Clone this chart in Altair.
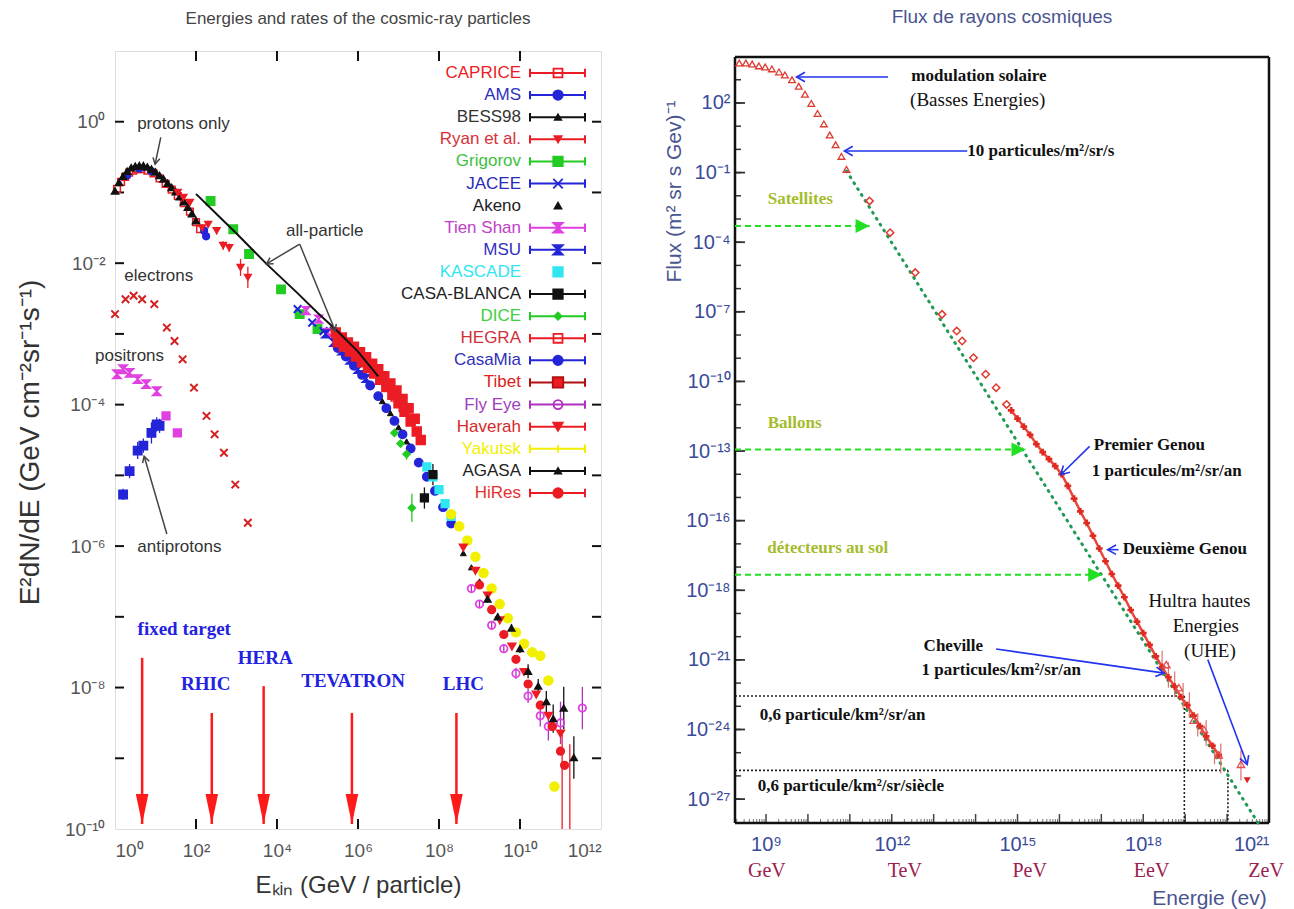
import math
import altair as alt
import pandas as pd

# ================================================================
# LEFT PANEL  x = log10(E_kin / GeV),  y = log10(E^2 dN/dE)
# ================================================================
bess_x = [0.0, 0.1, 0.2, 0.3, 0.4, 0.5, 0.6, 0.7, 0.8, 0.9, 1.0, 1.1, 1.2, 1.3, 1.4, 1.5, 1.6, 1.7, 1.8, 1.9, 2.0]
bess_y = [-0.98, -0.86, -0.77, -0.70, -0.65, -0.63, -0.62, -0.62, -0.64, -0.67, -0.71, -0.76, -0.81, -0.87, -0.93, -0.99, -1.06, -1.13, -1.21, -1.30, -1.40]
caprice_x = [0.05, 0.15, 0.25, 0.35, 0.45, 0.55, 0.65, 0.8, 0.95, 1.1, 1.25, 1.4, 1.55, 1.7, 1.85, 2.0, 2.1]
caprice_y = [-0.95, -0.85, -0.78, -0.72, -0.69, -0.67, -0.67, -0.69, -0.73, -0.80, -0.88, -0.96, -1.05, -1.15, -1.27, -1.42, -1.52]
ams_x = [0.3, 0.6, 0.9, 2.2, 2.25]
ams_y = [-0.76, -0.66, -0.70, -1.54, -1.62]
ryan_x = [1.55, 1.69, 1.85, 2.15, 2.3, 2.51, 2.67, 2.82, 3.1, 3.28]
ryan_y = [-1.0, -1.07, -1.14, -1.5, -1.45, -1.54, -1.75, -1.78, -2.06, -2.2]
ryan_err = [0.03, 0.03, 0.04, 0.05, 0.05, 0.05, 0.06, 0.06, 0.12, 0.15]
grig_x = [2.36, 2.92, 3.31, 4.1, 4.56, 5.0]
grig_y = [-1.12, -1.52, -1.87, -2.37, -2.72, -2.93]
jacee_x = [4.51, 4.87, 5.15, 5.59]
jacee_y = [-2.65, -2.84, -2.96, -3.1]
tien_x = [4.72, 5.03, 5.25]
tien_y = [-2.67, -2.79, -2.98]
msu_x = [5.2, 5.4, 5.6, 5.8, 6.0, 6.2]
msu_y = [-3.0, -3.12, -3.24, -3.37, -3.5, -3.63]
casamia_x = [5.5, 5.7, 5.9, 6.1, 6.3, 6.5, 6.7, 6.9, 7.1, 7.3, 7.5, 7.7, 7.9, 8.1, 8.3]
casamia_y = [-3.2, -3.32, -3.45, -3.58, -3.73, -3.88, -4.05, -4.23, -4.42, -4.62, -4.82, -5.02, -5.22, -5.45, -5.68]
akeno_x = [6.6, 6.8, 7.0, 7.2, 8.6, 8.8, 9.0]
akeno_y = [-3.95, -4.12, -4.32, -4.52, -6.1, -6.3, -6.5]
tibet_x = [5.45, 5.5, 5.6, 5.65, 5.75, 5.8, 5.9, 5.95, 6.05, 6.1, 6.2, 6.25, 6.35, 6.4, 6.5, 6.55, 6.65, 6.7, 6.8, 6.85, 6.95, 7.0, 7.1, 7.15, 7.25, 7.3, 7.4, 7.45, 7.55]
tibet_y = [-2.98, -3.12, -3.05, -3.18, -3.12, -3.25, -3.18, -3.32, -3.26, -3.4, -3.33, -3.48, -3.42, -3.56, -3.5, -3.65, -3.6, -3.75, -3.7, -3.86, -3.8, -3.98, -3.92, -4.1, -4.05, -4.24, -4.2, -4.38, -4.5]
dice_x = [6.9, 7.05, 7.2, 7.33]
dice_y = [-4.4, -4.55, -4.7, -5.46]
dice_err = [0.05, 0.05, 0.08, 0.2]
hegra_x = [6.9, 7.1]
hegra_y = [-3.9, -4.05]
casab_x = [7.64, 7.85]
casab_y = [-5.32, -4.99]
casab_err = [0.15, 0.15]
kascade_x = [7.7, 7.85, 8.0, 8.15, 8.3]
kascade_y = [-4.88, -5.02, -5.2, -5.4, -5.58]
yakutsk_x = [8.3, 8.5, 8.7, 8.9, 9.1, 9.3, 9.5, 9.7, 9.9, 10.1, 10.3, 10.5, 10.7, 10.85]
yakutsk_y = [-5.55, -5.72, -5.92, -6.15, -6.38, -6.6, -6.82, -7.02, -7.22, -7.38, -7.5, -7.55, -7.9, -9.4]
flyeye_x = [8.8, 9.0, 9.3, 9.6, 9.9, 10.2, 10.5, 10.7, 11.0, 11.54]
flyeye_y = [-6.6, -6.82, -7.12, -7.45, -7.8, -8.12, -8.4, -8.55, -8.5, -8.29]
flyeye_err = [0.05, 0.05, 0.05, 0.06, 0.08, 0.1, 0.15, 0.2, 0.3, 0.3]
haverah_x = [8.6, 8.9, 9.2, 9.5, 9.8, 10.1, 10.4, 10.7, 11.0]
haverah_y = [-6.02, -6.35, -6.7, -7.05, -7.42, -7.78, -8.1, -8.4, -8.65]
agasa_x = [9.2, 9.45, 9.79, 10.0, 10.2, 10.45, 10.65, 10.82, 11.08, 11.33]
agasa_y = [-6.75, -7.0, -7.16, -7.45, -7.77, -7.98, -8.2, -8.44, -8.29, -8.99]
agasa_err = [0.05, 0.05, 0.06, 0.06, 0.1, 0.1, 0.15, 0.2, 0.3, 0.3]
hires_x = [9.0, 9.3, 9.6, 9.9, 10.2, 10.5, 10.8, 11.0, 11.1]
hires_y = [-6.55, -6.9, -7.25, -7.6, -7.95, -8.25, -8.55, -8.9, -9.1]
bigerr_x = [11.04, 11.23]
bigerr_lo = [-10.0, -10.0]
bigerr_hi = [-8.6, -8.8]
electron_x = [0.0, 0.26, 0.46, 0.67, 0.97, 1.28, 1.47, 1.67, 1.95, 2.26, 2.46, 2.69, 2.97, 3.28]
electron_y = [-2.72, -2.51, -2.46, -2.51, -2.58, -2.91, -3.1, -3.36, -3.76, -4.16, -4.42, -4.68, -5.13, -5.67]
positron_x = [0.05, 0.2, 0.36, 0.56, 0.77, 1.03]
positron_y = [-3.57, -3.5, -3.55, -3.64, -3.71, -3.81]
positron_sq_x = [1.26, 1.54]
positron_sq_y = [-4.16, -4.4]
antip_x = [0.2, 0.36, 0.56, 0.7, 0.9, 1.03, 1.1]
antip_y = [-5.27, -4.94, -4.65, -4.58, -4.4, -4.28, -4.3]
antip_err = [0.08, 0.1, 0.12, 0.1, 0.15, 0.1, 0.1]
allpart_x = [2.0, 2.5, 3.0, 3.74, 4.5, 5.0, 5.49, 6.0, 6.5]
allpart_y = [-1.02, -1.3, -1.58, -2.01, -2.42, -2.7, -2.96, -3.25, -3.6]

note_text = ["protons only", "all-particle", "electrons", "positrons", "antiprotons"]
note_x = [1.69, 5.18, 1.08, 0.36, 1.59]
note_y = [-0.03, -1.54, -2.18, -3.31, -6.01]
pointer_x0 = [1.13, 4.56, 4.56, 1.28]
pointer_y0 = [-0.22, -1.73, -1.73, -5.83]
pointer_x1 = [0.99, 3.74, 5.44, 0.72]
pointer_y1 = [-0.6, -2.01, -2.96, -4.73]

collider_text = ["fixed target", "RHIC", "HERA", "TEVATRON", "LHC"]
collider_text_x = [1.71, 2.24, 3.71, 5.88, 8.6]
collider_text_y = [-7.17, -7.95, -7.58, -7.91, -7.95]
collider_arrow_x = [0.67, 2.39, 3.67, 5.85, 8.43]
collider_arrow_top = [-7.58, -8.36, -7.98, -8.36, -8.36]
collider_arrow_tip = [-9.93, -9.93, -9.93, -9.93, -9.93]

legend_names = ["CAPRICE", "AMS", "BESS98", "Ryan et al.", "Grigorov", "JACEE", "Akeno", "Tien Shan",
                "MSU", "KASCADE", "CASA-BLANCA", "DICE", "HEGRA", "CasaMia", "Tibet", "Fly Eye",
                "Haverah", "Yakutsk", "AGASA", "HiRes"]

# ================================================================
# RIGHT PANEL  x = log10(E / eV),  y = log10(flux)
# ================================================================
r_tri_x = [8.36, 8.52, 8.67, 8.83, 8.98, 9.14, 9.31, 9.45, 9.62, 9.78, 9.93, 10.08, 10.23, 10.38, 10.52, 10.66, 10.8, 10.92]
r_tri_y = [3.72, 3.72, 3.68, 3.6, 3.55, 3.47, 3.34, 3.21, 3.0, 2.72, 2.38, 1.98, 1.55, 1.1, 0.62, 0.2, -0.3, -0.86]
r_dia_x = [11.47, 11.96, 12.56, 13.20, 13.55, 13.68, 13.95, 14.24, 14.49, 14.74]
r_dia_y = [-2.22, -3.59, -5.31, -7.11, -7.83, -8.26, -8.98, -9.69, -10.27, -10.99]
r_band_x = [14.85, 15.0, 15.15, 15.3, 15.45, 15.6, 15.75, 15.9, 16.05, 16.2, 16.35, 16.5, 16.65, 16.8, 16.95, 17.1, 17.25,
            17.4, 17.55, 17.7, 17.85, 18.0, 18.15, 18.3, 18.45, 18.6, 18.75, 18.9, 19.05, 19.2, 19.35, 19.5, 19.65, 19.8]
r_band_y = [-11.25, -11.6, -11.95, -12.3, -12.7, -13.05, -13.35, -13.65, -14.0, -14.5, -15.05, -15.6, -16.1, -16.65, -17.2, -17.75, -18.3,
            -18.8, -19.3, -19.85, -20.35, -20.85, -21.35, -21.85, -22.3, -22.75, -23.15, -23.6, -23.95, -24.4, -24.85, -25.3, -25.7, -26.1]
r_hi_x = [18.55, 18.85, 19.2, 19.45, 19.8, 20.33]
r_hi_y = [-22.2, -23.2, -24.6, -25.0, -26.1, -26.5]
r_err_x = [18.45, 18.6, 18.75, 18.95, 19.1, 19.3, 19.5, 19.7, 19.85, 20.33]
r_err_lo = [-22.7, -23.2, -23.6, -24.1, -24.5, -25.3, -25.7, -26.5, -26.9, -27.2]
r_err_hi = [-21.6, -22.1, -22.5, -23.0, -23.4, -24.3, -24.6, -25.6, -25.6, -25.9]
r_last_x = [20.48]
r_last_y = [-27.19]
r_fit_x = [10.92, 20.74]
r_fit_y = [-0.93, -29.03]

green_text = ["Satellites", "Ballons", "détecteurs au sol"]
green_text_x = [9.04, 9.04, 9.03]
green_text_y = [-2.15, -11.78, -17.18]
green_arrow_y = [-3.30, -12.93, -18.33]
green_arrow_tip = [11.47, 15.19, 17.02]

dotted_h_y = [-23.56, -26.76]
dotted_h_end = [18.98, 20.02]

bold_left_text = ["10 particules/m²/sr/s", "Premier Genou", "1 particules/m²/sr/an", "Deuxième Genou",
                  "Cheville", "1 particules/km²/sr/an", "0,6 particule/km²/sr/an", "0,6 particule/km²/sr/siècle"]
bold_left_x = [13.8, 16.82, 16.77, 17.51, 12.76, 12.71, 8.85, 8.80]
bold_left_y = [-0.05, -12.75, -13.88, -17.22, -21.42, -22.42, -24.36, -27.45]
center_text = ["modulation solaire", "(Basses Energies)", "Hultra hautes", "Energies", "(UHE)"]
center_x = [14.08, 14.05, 19.34, 19.49, 19.59]
center_y = [3.16, 2.12, -19.48, -20.56, -21.63]

blue_x0 = [11.91, 13.8, 16.72, 17.41, 14.49, 19.54]
blue_y0 = [3.12, -0.07, -12.8, -17.25, -21.53, -21.99]
blue_x1 = [9.73, 10.87, 16.03, 17.15, 18.5, 20.48]
blue_y1 = [3.12, -0.07, -14.02, -17.25, -22.57, -26.51]

unit_text = ["GeV", "TeV", "PeV", "EeV", "ZeV"]
unit_x = [9.02, 12.31, 15.29, 18.2, 20.93]

# ================================================================
SUP = str.maketrans("0123456789-", "⁰¹²³⁴⁵⁶⁷⁸⁹⁻")
SANS = "Liberation Sans, Arial, Helvetica, sans-serif"
SERIF = "Liberation Serif, Times New Roman, serif"


def p10(n):
    return "10" + str(n).translate(SUP)


def label_expr(mapping):
    expr = "''"
    for v, s in mapping.items():
        expr = f"datum.value == {v} ? '{s}' : ({expr})"
    return expr


SQ, CI, TU, TD, DI = "square", "circle", "triangle-up", "triangle-down", "diamond"
XS = "M-1,-1L1,1M-1,1L1,-1"
HG = "M-1,-1L1,-1L-1,1L1,1Z"
VBAR = "M0,-1L0,1"
CHEV = "M-1.6,-0.9L0,0L-1.6,0.9"
TRI_R = "M-2,-1L0,0L-2,1Z"
RED_HEAD = "M-0.42,-2L0.42,-2L0,0Z"

RED, BLUE, GREEN, MAG, CYAN, YEL, BLK, PURP = "#ec1c24", "#2424d8", "#22cc22", "#e040e0", "#30e6f0", "#f2f000", "#111111", "#b030c0"

# ---------------- LEFT CHART ----------------
W1, H1 = 486, 778
xs1 = alt.Scale(domain=[0, 12], nice=False, zero=False)
ys1 = alt.Scale(domain=[-10, 1], nice=False, zero=False)
kx1, ky1 = W1 / 12.0, H1 / 11.0

ax_x1 = alt.Axis(values=list(range(0, 13, 2)), labelExpr=label_expr({v: p10(v) for v in range(0, 13, 2)}),
                 labelFont=SANS, labelFontSize=19, labelColor="#555555", ticks=False, domain=False, grid=False,
                 labelPadding=12, title="Eₖᵢₙ   (GeV / particle)", titleFont=SANS, titleFontSize=24,
                 titleFontWeight="normal", titleColor="#333333", titleX=W1 / 2, titleY=56,
                 titleBaseline="middle", titleAlign="center")
ax_y1 = alt.Axis(values=list(range(-10, 1, 2)), labelExpr=label_expr({v: p10(v) for v in range(-10, 1, 2)}),
                 labelFont=SANS, labelFontSize=19, labelColor="#555555", ticks=False, domain=False, grid=False,
                 labelPadding=10, title="E²dN/dE    (GeV cm⁻²sr⁻¹s⁻¹)", titleFont=SANS, titleFontSize=28,
                 titleFontWeight="normal", titleColor="#333333", titleX=-85, titleY=391, titleAngle=-90,
                 titleAlign="center", titleBaseline="middle")


def X1(f):
    return alt.X(f, type="quantitative", scale=xs1, axis=ax_x1)


def Y1(f):
    return alt.Y(f, type="quantitative", scale=ys1, axis=ax_y1)


tick_y_df = pd.DataFrame({"y": list(range(-9, 1))})
tick_x_df = pd.DataFrame({"x": [2, 4, 6, 8, 10]})
ticks1 = [
    alt.Chart(tick_y_df).mark_rule(color=BLK, strokeWidth=2).encode(x=alt.value(0), x2=alt.value(9), y=Y1("y")),
    alt.Chart(tick_y_df).mark_rule(color=BLK, strokeWidth=2).encode(x=alt.value(W1 - 9), x2=alt.value(W1), y=Y1("y")),
    alt.Chart(tick_x_df).mark_rule(color=BLK, strokeWidth=2).encode(y=alt.value(H1 - 10), y2=alt.value(H1), x=X1("x")),
    alt.Chart(tick_x_df).mark_rule(color=BLK, strokeWidth=2).encode(y=alt.value(0), y2=alt.value(10), x=X1("x")),
]

series_specs = [
    (electron_x, electron_y, XS, "transparent", "#d42020", 55, 2.0),
    (positron_x, positron_y, HG, MAG, MAG, 70, 1.5),
    (positron_sq_x, positron_sq_y, SQ, MAG, MAG, 60, 1.5),
    (antip_x, antip_y, SQ, BLUE, BLUE, 70, 1.5),
    (caprice_x, caprice_y, SQ, "transparent", RED, 45, 1.5),
    (ams_x, ams_y, CI, BLUE, BLUE, 45, 1.5),
    (bess_x, bess_y, TU, BLK, BLK, 50, 1.5),
    (ryan_x, ryan_y, TD, RED, RED, 45, 1.5),
    (grig_x, grig_y, SQ, GREEN, GREEN, 70, 1.5),
    (jacee_x, jacee_y, XS, "transparent", BLUE, 60, 2.0),
    (tien_x, tien_y, HG, MAG, MAG, 60, 1.5),
    (msu_x, msu_y, HG, BLUE, BLUE, 60, 1.5),
    (casamia_x, casamia_y, CI, BLUE, BLUE, 70, 1.5),
    (akeno_x, akeno_y, TU, BLK, BLK, 35, 1.0),
    (dice_x, dice_y, DI, GREEN, GREEN, 50, 1.5),
    (hegra_x, hegra_y, SQ, "transparent", RED, 45, 1.5),
    (tibet_x, tibet_y, SQ, RED, RED, 80, 1.5),
    (kascade_x, kascade_y, SQ, CYAN, CYAN, 60, 1.5),
    (casab_x, casab_y, SQ, BLK, BLK, 60, 1.5),
    (yakutsk_x, yakutsk_y, CI, YEL, YEL, 80, 1.5),
    (flyeye_x, flyeye_y, CI, "transparent", MAG, 55, 1.8),
    (haverah_x, haverah_y, TD, RED, RED, 60, 1.5),
    (hires_x, hires_y, CI, RED, RED, 60, 1.5),
    (agasa_x, agasa_y, TU, BLK, BLK, 45, 1.5),
]
pts_df1 = pd.concat([
    pd.DataFrame({"x": xs, "y": ys, "shape": sh, "fill": fi, "stroke": st, "size": sz, "sw": sw})
    for xs, ys, sh, fi, st, sz, sw in series_specs], ignore_index=True)

err_specs = [(ryan_x, ryan_y, ryan_err, RED), (antip_x, antip_y, antip_err, BLUE), (dice_x, dice_y, dice_err, GREEN),
             (casab_x, casab_y, casab_err, BLK), (agasa_x, agasa_y, agasa_err, BLK), (flyeye_x, flyeye_y, flyeye_err, PURP)]
err_df1 = pd.concat([
    pd.DataFrame({"x": xs, "y": [a - e for a, e in zip(ys, es)], "hi": [a + e for a, e in zip(ys, es)], "c": c})
    for xs, ys, es, c in err_specs] + [pd.DataFrame({"x": bigerr_x, "y": bigerr_lo, "hi": bigerr_hi, "c": RED})],
    ignore_index=True)


def head_angles(x0, y0, x1, y1, kx, ky):
    return [math.degrees(math.atan2(-(b1 - b0) * ky, (a1 - a0) * kx)) for a0, b0, a1, b1 in zip(x0, y0, x1, y1)]


ptr_df = pd.DataFrame({"x": pointer_x0, "y": pointer_y0, "x1": pointer_x1, "y1": pointer_y1,
                       "ang": head_angles(pointer_x0, pointer_y0, pointer_x1, pointer_y1, kx1, ky1)})
ptr_head_df = pd.DataFrame({"x": pointer_x1, "y": pointer_y1, "ang": ptr_df["ang"]})
col_df = pd.DataFrame({"x": collider_arrow_x, "y": collider_arrow_top, "tip": collider_arrow_tip})
col_head_df = pd.DataFrame({"x": collider_arrow_x, "y": collider_arrow_tip})

data_layers1 = [
    *ticks1,
    alt.Chart(err_df1).mark_rule(strokeWidth=1.3).encode(x=X1("x"), y=Y1("y"), y2="hi", stroke=alt.Stroke("c:N", scale=None)),
    alt.Chart(pts_df1).mark_point(opacity=1, fillOpacity=1).encode(
        x=X1("x"), y=Y1("y"), shape=alt.Shape("shape:N", scale=None), fill=alt.Fill("fill:N", scale=None),
        stroke=alt.Stroke("stroke:N", scale=None), size=alt.Size("size:Q", scale=None),
        strokeWidth=alt.StrokeWidth("sw:Q", scale=None)),
    alt.Chart(pd.DataFrame({"x": allpart_x, "y": allpart_y})).mark_line(color=BLK, strokeWidth=2).encode(x=X1("x"), y=Y1("y")),
    alt.Chart(ptr_df).mark_rule(color="#444444", strokeWidth=1.5).encode(x=X1("x"), y=Y1("y"), x2="x1", y2="y1"),
    alt.Chart(ptr_head_df).mark_point(shape=CHEV, size=60, color="#444444", strokeWidth=1.5, opacity=1).encode(
        x=X1("x"), y=Y1("y"), angle=alt.Angle("ang:Q", scale=None)),
    alt.Chart(pd.DataFrame({"t": note_text, "x": note_x, "y": note_y})).mark_text(
        font=SANS, fontSize=17, color="#333333", baseline="middle").encode(x=X1("x"), y=Y1("y"), text="t:N"),
    alt.Chart(col_df).mark_rule(color="#ff1a1a", strokeWidth=2.5).encode(x=X1("x"), y=Y1("y"), y2="tip"),
    alt.Chart(col_head_df).mark_point(shape=RED_HEAD, size=900, fill="#ff1a1a", filled=True, opacity=1, strokeWidth=0).encode(
        x=X1("x"), y=Y1("y")),
    alt.Chart(pd.DataFrame({"t": collider_text, "x": collider_text_x, "y": collider_text_y})).mark_text(
        font=SERIF, fontSize=19, fontWeight="bold", color="#2222e0", baseline="middle").encode(x=X1("x"), y=Y1("y"), text="t:N"),
]

# legend (manual, gnuplot style)
leg_text_col = [RED, "#3030c0", "#333333", "#d8303a", "#40c040", "#2a2ab8", "#222222", "#c040c8", "#3030c0", CYAN,
                "#222222", "#40d040", "#d0303a", "#3030b8", "#e02020", "#a040c0", "#d82828", YEL, "#222222", "#e83030"]
leg_bar_col = [RED, BLUE, BLK, RED, GREEN, BLUE, BLK, MAG, BLUE, CYAN, BLK, GREEN, RED, BLUE, "#b01010", PURP, RED, YEL, BLK, RED]
leg_shape = [SQ, CI, TU, TD, SQ, XS, TU, HG, HG, SQ, SQ, DI, SQ, CI, SQ, CI, TD, VBAR, TU, CI]
leg_fill = ["transparent", BLUE, BLK, RED, GREEN, "transparent", BLK, MAG, BLUE, CYAN, BLK, GREEN, "transparent", BLUE,
            RED, "transparent", RED, YEL, BLK, RED]
leg_size = [80, 90, 40, 50, 90, 90, 45, 90, 90, 90, 90, 50, 80, 90, 110, 80, 90, 60, 40, 90]
leg_bar = [True] * 20
leg_bar[6] = False
leg_bar[9] = False
leg_df = pd.DataFrame({"name": legend_names, "tc": leg_text_col, "bc": leg_bar_col, "shape": leg_shape,
                       "fill": leg_fill, "size": leg_size, "bar": leg_bar})
leg_bar_df = leg_df[leg_df["bar"]]
YL = alt.Y("name:N", scale=alt.Scale(type="point", domain=legend_names, range=[22, 442], padding=0), axis=None)
legend_layers = [
    alt.Chart(leg_df).mark_text(font=SANS, fontSize=17, align="right", baseline="middle").encode(
        x=alt.value(406), y=YL, text="name:N", fill=alt.Fill("tc:N", scale=None)),
    alt.Chart(leg_bar_df).mark_rule(strokeWidth=2).encode(x=alt.value(415), x2=alt.value(470), y=YL,
                                                           stroke=alt.Stroke("bc:N", scale=None)),
    alt.Chart(leg_bar_df).mark_point(shape=VBAR, size=70, strokeWidth=2, opacity=1).encode(
        x=alt.value(415), y=YL, stroke=alt.Stroke("bc:N", scale=None)),
    alt.Chart(leg_bar_df).mark_point(shape=VBAR, size=70, strokeWidth=2, opacity=1).encode(
        x=alt.value(470), y=YL, stroke=alt.Stroke("bc:N", scale=None)),
    alt.Chart(leg_df).mark_point(strokeWidth=1.8, opacity=1, fillOpacity=1).encode(
        x=alt.value(443), y=YL, shape=alt.Shape("shape:N", scale=None), fill=alt.Fill("fill:N", scale=None),
        stroke=alt.Stroke("bc:N", scale=None), size=alt.Size("size:Q", scale=None)),
]

left = alt.layer(alt.layer(*data_layers1), alt.layer(*legend_layers)).resolve_scale(y="independent").properties(
    width=W1, height=H1,
    title=alt.TitleParams("Energies and rates of the cosmic-ray particles", font=SANS, fontSize=17,
                          fontWeight="normal", color="#444444", offset=22, anchor="middle"))

# ---------------- RIGHT CHART ----------------
W2, H2 = 534, 772
XD2 = [8.26, 21.0]
FRAME_TOP = 3.98
YD2 = [-29.03, 4.24]
xs2 = alt.Scale(domain=XD2, nice=False, zero=False)
ys2 = alt.Scale(domain=YD2, nice=False, zero=False)
kx2, ky2 = W2 / (XD2[1] - XD2[0]), H2 / (YD2[1] - YD2[0])

y_label_vals = [2, -1, -4, -7, -10, -13, -16, -19, -22, -25, -28]
y_label_txt = ["10²", "10⁻¹", "10⁻⁴", "10⁻⁷", "10⁻¹⁰", "10⁻¹³", "10⁻¹⁶", "10⁻¹⁸", "10⁻²¹", "10⁻²⁴", "10⁻²⁷"]
NAVY = "#3a4a9a"
ax_x2 = alt.Axis(values=[9, 12, 15, 18, 21], labelExpr=label_expr({v: p10(v) for v in [9, 12, 15, 18, 21]}),
                 labelFont=SANS, labelFontSize=20, labelColor=NAVY, ticks=False, domain=False, grid=False,
                 labelPadding=11, title="Energie (ev)", titleFont=SANS, titleFontSize=21, titleFontWeight="normal",
                 titleColor="#4a5590", titleX=474, titleY=75, titleAlign="center", titleBaseline="middle")
ax_y2 = alt.Axis(values=y_label_vals, labelExpr=label_expr(dict(zip(y_label_vals, y_label_txt))),
                 labelFont=SANS, labelFontSize=20, labelColor=NAVY, ticks=False, domain=False, grid=False,
                 labelPadding=5, title="Flux (m² sr s Gev)⁻¹", titleFont=SANS, titleFontSize=21,
                 titleFontWeight="normal", titleColor="#4a5590", titleX=-61, titleY=140, titleAngle=-90,
                 titleAlign="center", titleBaseline="middle")


def X2(f):
    return alt.X(f, type="quantitative", scale=xs2, axis=ax_x2)


def Y2(f):
    return alt.Y(f, type="quantitative", scale=ys2, axis=ax_y2)


ydec = pd.DataFrame({"y": list(range(-28, 4))})
ymaj = pd.DataFrame({"y": y_label_vals})
xdec = pd.DataFrame({"x": list(range(9, 21))})
xmin = pd.DataFrame({"x": [d + math.log10(k) for d in range(8, 21) for k in range(2, 10) if XD2[0] < d + math.log10(k) < XD2[1]]})
ticks2 = [
    alt.Chart(ydec).mark_rule(color="#333333", strokeWidth=1.5).encode(x=alt.value(0), x2=alt.value(6), y=Y2("y")),
    alt.Chart(ymaj).mark_rule(color="#333333", strokeWidth=1.8).encode(x=alt.value(0), x2=alt.value(10), y=Y2("y")),
    alt.Chart(xdec).mark_rule(color="#444444", strokeWidth=1.5).encode(y=alt.value(H2 - 9), y2=alt.value(H2), x=X2("x")),
    alt.Chart(xmin).mark_rule(color="#777777", strokeWidth=1).encode(y=alt.value(H2 - 4), y2=alt.value(H2), x=X2("x")),
]
frame_h = pd.DataFrame({"x": [XD2[0], XD2[0]], "x2": [XD2[1], XD2[1]], "y": [FRAME_TOP, YD2[0]]})
frame_v = pd.DataFrame({"x": [XD2[0], XD2[1]], "y": [YD2[0], YD2[0]], "y2": [FRAME_TOP, FRAME_TOP]})
frame2 = [
    alt.Chart(frame_h).mark_rule(color="#111111", strokeWidth=2.5).encode(x=X2("x"), x2="x2", y=Y2("y")),
    alt.Chart(frame_v).mark_rule(color="#111111", strokeWidth=2.5).encode(x=X2("x"), y=Y2("y"), y2="y2"),
]

gr_df = pd.DataFrame({"x": XD2[0], "y": green_arrow_y, "tip": green_arrow_tip})
gr_head_df = pd.DataFrame({"x": green_arrow_tip, "y": green_arrow_y})
dot_h_df = pd.DataFrame({"x": XD2[0], "y": dotted_h_y, "xe": dotted_h_end})
dot_v_df = pd.DataFrame({"x": dotted_h_end, "y": dotted_h_y, "yb": YD2[0]})
blue_df = pd.DataFrame({"x": blue_x0, "y": blue_y0, "x1": blue_x1, "y1": blue_y1})
blue_head_df = pd.DataFrame({"x": blue_x1, "y": blue_y1,
                             "ang": head_angles(blue_x0, blue_y0, blue_x1, blue_y1, kx2, ky2)})
rerr_df = pd.DataFrame({"x": r_err_x, "y": r_err_lo, "hi": r_err_hi})
band_df = pd.DataFrame({"x": r_band_x, "y": r_band_y})
BLUE_ARROW = "#2233ee"
OLIVE = "#a4bc2c"

layers2 = [
    *ticks2, *frame2,
    alt.Chart(dot_h_df).mark_rule(color="#222222", strokeWidth=1.6, strokeDash=[2, 2]).encode(x=X2("x"), x2="xe", y=Y2("y")),
    alt.Chart(dot_v_df).mark_rule(color="#222222", strokeWidth=1.6, strokeDash=[2, 2]).encode(x=X2("x"), y=Y2("y"), y2="yb"),
    alt.Chart(pd.DataFrame({"x": r_fit_x, "y": r_fit_y})).mark_line(
        color="#1f9a55", strokeWidth=3, strokeDash=[1, 6], strokeCap="round").encode(x=X2("x"), y=Y2("y")),
    alt.Chart(gr_df).mark_rule(color="#22e022", strokeWidth=2, strokeDash=[6, 4]).encode(x=X2("x"), x2="tip", y=Y2("y")),
    alt.Chart(gr_head_df).mark_point(shape=TRI_R, size=196, filled=True, fill="#22e022", opacity=1, strokeWidth=0).encode(
        x=X2("x"), y=Y2("y")),
    alt.Chart(rerr_df).mark_rule(color="#e07070", strokeWidth=1.2).encode(x=X2("x"), y=Y2("y"), y2="hi"),
    alt.Chart(pd.DataFrame({"x": r_tri_x, "y": r_tri_y})).mark_point(
        shape=TU, size=45, color="#e03a30", strokeWidth=1.3, opacity=1).encode(x=X2("x"), y=Y2("y")),
    alt.Chart(pd.DataFrame({"x": r_dia_x, "y": r_dia_y})).mark_point(
        shape=DI, size=55, color="#e03a30", strokeWidth=1.5, opacity=1).encode(x=X2("x"), y=Y2("y")),
    alt.Chart(band_df).mark_line(color="#e8483c", strokeWidth=2.5).encode(x=X2("x"), y=Y2("y")),
    alt.Chart(band_df).mark_point(
        shape="cross", size=45, filled=True, color="#e02a20", opacity=1).encode(x=X2("x"), y=Y2("y")),
    alt.Chart(pd.DataFrame({"x": r_hi_x, "y": r_hi_y})).mark_point(
        shape=TU, size=55, color="#e05050", strokeWidth=1.3, opacity=1).encode(x=X2("x"), y=Y2("y")),
    alt.Chart(pd.DataFrame({"x": r_last_x, "y": r_last_y})).mark_point(
        shape=TD, size=50, filled=True, color="#e02020", opacity=1).encode(x=X2("x"), y=Y2("y")),
    alt.Chart(blue_df).mark_rule(color=BLUE_ARROW, strokeWidth=1.6).encode(x=X2("x"), y=Y2("y"), x2="x1", y2="y1"),
    alt.Chart(blue_head_df).mark_point(shape=CHEV, size=110, color=BLUE_ARROW, strokeWidth=1.6, opacity=1).encode(
        x=X2("x"), y=Y2("y"), angle=alt.Angle("ang:Q", scale=None)),
    alt.Chart(pd.DataFrame({"t": green_text, "x": green_text_x, "y": green_text_y})).mark_text(
        font=SERIF, fontSize=17, fontWeight="bold", color=OLIVE, align="left", baseline="middle").encode(
        x=X2("x"), y=Y2("y"), text="t:N"),
    alt.Chart(pd.DataFrame({"t": bold_left_text, "x": bold_left_x, "y": bold_left_y})).mark_text(
        font=SERIF, fontSize=17, fontWeight="bold", color="#111111", align="left", baseline="middle").encode(
        x=X2("x"), y=Y2("y"), text="t:N"),
    alt.Chart(pd.DataFrame({"t": center_text[:1], "x": center_x[:1], "y": center_y[:1]})).mark_text(
        font=SERIF, fontSize=17, fontWeight="bold", color="#111111", align="center", baseline="middle").encode(
        x=X2("x"), y=Y2("y"), text="t:N"),
    alt.Chart(pd.DataFrame({"t": center_text[1:], "x": center_x[1:], "y": center_y[1:]})).mark_text(
        font=SERIF, fontSize=19, color="#111111", align="center", baseline="middle").encode(
        x=X2("x"), y=Y2("y"), text="t:N"),
    alt.Chart(pd.DataFrame({"t": unit_text, "x": unit_x})).mark_text(
        font=SERIF, fontSize=20, color="#9a2050", align="center", baseline="middle").encode(
        x=X2("x"), y=alt.value(H2 + 48), text="t:N"),
]

right = alt.layer(*layers2).properties(
    width=W2, height=H2, view=alt.ViewBackground(stroke="transparent"),
    title=alt.TitleParams("Flux de rayons cosmiques", font=SANS, fontSize=19, fontWeight="normal",
                          color="#4a5590", offset=24, anchor="middle"))

chart = alt.hconcat(left, right, spacing=59).properties(
    padding={"left": 15, "top": 7, "right": 0, "bottom": 0}
).configure_view(stroke="#111111", strokeWidth=2.5).configure(background="white")

chart.save("out.html", embed_options={"renderer": "svg", "actions": False})
